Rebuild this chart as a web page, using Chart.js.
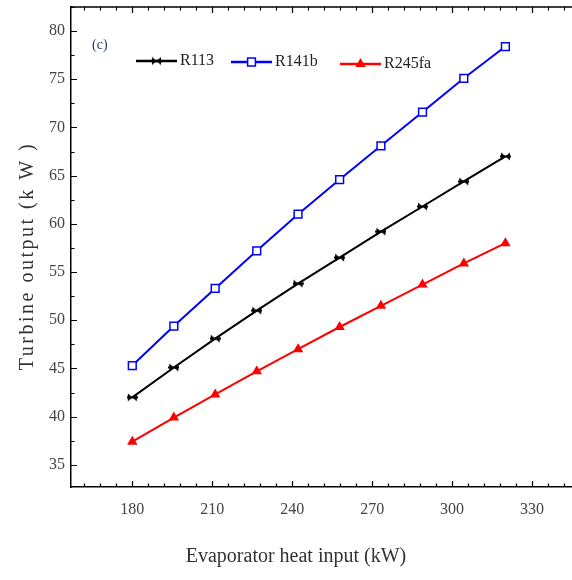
<!DOCTYPE html>
<html>
<head>
<meta charset="utf-8">
<script src="https://cdn.jsdelivr.net/npm/chart.js@4/dist/chart.umd.min.js"></script>
<style>
  html, body { margin: 0; padding: 0; background: #fff; overflow: hidden; }
  #wrap { position: relative; width: 572px; height: 580px; overflow: hidden; }
  canvas { position: absolute; left: 0; top: 0; }
</style>
</head>
<body>
<div id="wrap"><canvas id="turbine_chart" width="600" height="580"></canvas></div>
<script>
// evaporator heat input (kW)
const heatInput = [180, 195.6, 211.1, 226.7, 242.2, 257.8, 273.3, 288.9, 304.4, 320];
// turbine output (kW)
const r113 = [42.0, 45.1, 48.1, 51.0, 53.8, 56.5, 59.2, 61.8, 64.4, 67.0];
const r141b = [45.3, 49.4, 53.3, 57.2, 61.0, 64.6, 68.1, 71.6, 75.1, 78.4];
const r245fa = [37.4, 39.9, 42.3, 44.7, 47.0, 49.3, 51.5, 53.7, 55.9, 58.0];

const xTicks = [180, 210, 240, 270, 300, 330];
const yTicks = [35, 40, 45, 50, 55, 60, 65, 70, 75, 80];
const xMinorStep = 6;
const yMinorStep = 2.5;

const serif = '"Liberation Serif", "DejaVu Serif", serif';

// black bow-tie marker used for R113
const bowtie = document.createElement("canvas");
bowtie.width = 11;
bowtie.height = 11;
const b = bowtie.getContext("2d");
b.fillStyle = "#000";
b.beginPath(); b.moveTo(1, 1.5); b.lineTo(5.5, 5.5); b.lineTo(1, 9.5); b.closePath(); b.fill();
b.beginPath(); b.moveTo(10, 1.5); b.lineTo(5.5, 5.5); b.lineTo(10, 9.5); b.closePath(); b.fill();
b.fillRect(0, 4.5, 11, 2);

const series = [
  { label: "R113", data: r113, color: "#000000", pointStyle: bowtie, radius: 5, fill: "#000000", lx: 136, ly: 61 },
  { label: "R141b", data: r141b, color: "#0000ff", pointStyle: "rect", radius: 5.5, fill: "#ffffff", lx: 231, ly: 62 },
  { label: "R245fa", data: r245fa, color: "#ff0000", pointStyle: "triangle", radius: 4.5, fill: "#ff0000", lx: 340, ly: 64 },
];

const framePlugin = {
  id: "frame",
  afterDatasetsDraw(chart) {
    const { ctx, chartArea: a, scales: { x, y } } = chart;
    ctx.save();
    ctx.strokeStyle = "#000";
    ctx.lineWidth = 1.5;
    ctx.beginPath();
    ctx.moveTo(a.left, a.top); ctx.lineTo(a.right, a.top); ctx.lineTo(a.right, a.bottom);
    ctx.stroke();

    // inward ticks, all four sides
    ctx.lineWidth = 1.2;
    ctx.beginPath();
    for (let v = 162; v <= x.max; v += xMinorStep) {
      const px = Math.round(x.getPixelForValue(v)) + 0.5;
      const len = xTicks.includes(v) ? 6 : 3.5;
      ctx.moveTo(px, a.bottom); ctx.lineTo(px, a.bottom - len);
      ctx.moveTo(px, a.top); ctx.lineTo(px, a.top + len);
    }
    for (let v = 35; v <= y.max; v += yMinorStep) {
      const py = Math.round(y.getPixelForValue(v)) + 0.5;
      const len = yTicks.includes(v) ? 6 : 3.5;
      ctx.moveTo(a.left, py); ctx.lineTo(a.left + len, py);
      ctx.moveTo(a.right, py); ctx.lineTo(a.right - len, py);
    }
    ctx.stroke();

    // legend inside the plot
    ctx.font = "16px " + serif;
    ctx.textBaseline = "middle";
    ctx.textAlign = "left";
    series.forEach((s) => {
      ctx.strokeStyle = s.color;
      ctx.lineWidth = 2.5;
      ctx.beginPath();
      ctx.moveTo(s.lx, s.ly); ctx.lineTo(s.lx + 41, s.ly);
      ctx.stroke();
      ctx.fillStyle = s.fill;
      ctx.lineWidth = 1.5;
      Chart.helpers.drawPoint(ctx, { pointStyle: s.pointStyle, radius: s.radius, rotation: 0, borderWidth: 1.5 }, s.lx + 20.5, s.ly);
      ctx.fillStyle = "#222";
      ctx.fillText(s.label, s.lx + 44, s.ly);
    });

    ctx.font = "14px " + serif;
    ctx.fillStyle = "#2a3a66";
    ctx.fillText("(c)", 92, 45);

    // axis titles
    ctx.fillStyle = "#333";
    ctx.font = "20px " + serif;
    ctx.textAlign = "center";
    ctx.fillText("Evaporator heat input (kW)", 296, 557);
    ctx.translate(28, 256);
    ctx.rotate(-Math.PI / 2);
    ctx.letterSpacing = "2.5px";
    ctx.fillText("Turbine output (k W )", 0, 0);
    ctx.restore();
  },
};

new Chart("turbine_chart", {
  type: "line",
  data: {
    datasets: series.map((s) => ({
      label: s.label,
      data: heatInput.map((h, i) => ({ x: h, y: s.data[i] })),
      borderColor: s.color,
      borderWidth: 2,
      backgroundColor: s.fill,
      pointBorderColor: s.color,
      pointBackgroundColor: s.fill,
      pointStyle: s.pointStyle,
      pointRadius: s.radius,
      pointBorderWidth: 1.5,
      tension: 0,
    })),
  },
  options: {
    responsive: false,
    animation: false,
    devicePixelRatio: 1,
    layout: { padding: { top: 7, right: 20, left: 0, bottom: 0 } },
    plugins: { legend: { display: false }, tooltip: { enabled: false } },
    scales: {
      x: {
        type: "linear",
        min: 157,
        max: 348,
        afterFit: (scale) => {
          scale.height = 93;
          scale.paddingLeft = 0;
          scale.paddingRight = 0;
        },
        afterBuildTicks: (scale) => { scale.ticks = xTicks.map((v) => ({ value: v })); },
        grid: { display: false, drawTicks: false },
        border: { display: true, color: "#000", width: 1.5 },
        ticks: { padding: 13, color: "#444", font: { family: serif, size: 16 } },
      },
      y: {
        type: "linear",
        min: 32.7,
        max: 82.5,
        afterFit: (scale) => {
          scale.width = 71;
          scale.paddingTop = 0;
          scale.paddingBottom = 0;
        },
        afterBuildTicks: (scale) => { scale.ticks = yTicks.map((v) => ({ value: v })); },
        grid: { display: false, drawTicks: false },
        border: { display: true, color: "#000", width: 1.5 },
        ticks: { padding: 6, color: "#444", font: { family: serif, size: 16 } },
      },
    },
  },
  plugins: [framePlugin],
});
</script>
</body>
</html>
